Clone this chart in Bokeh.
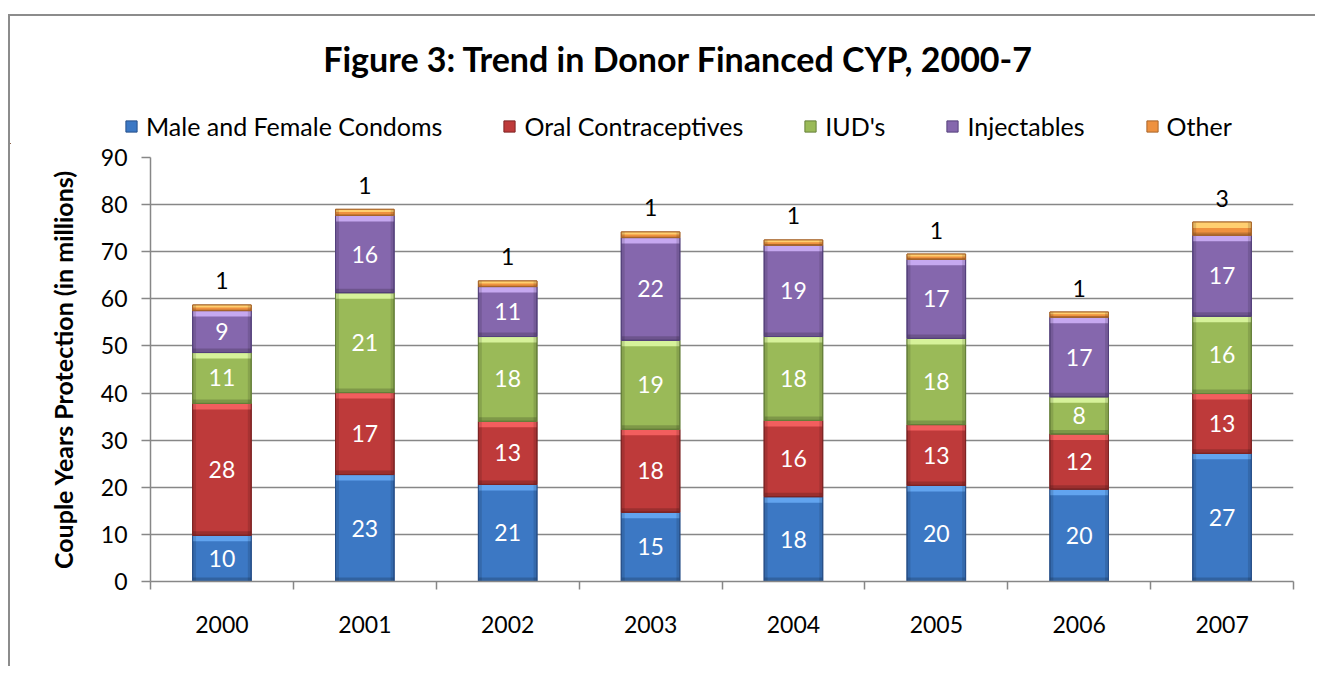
import numpy as np
from bokeh.plotting import figure
from bokeh.layouts import column
from bokeh.models import FixedTicker, Legend, LegendItem, Label, Range1d, ColumnDataSource
from bokeh.core.properties import value
from bokeh.embed import file_html
from bokeh.resources import INLINE

# ---------------- data ----------------
years = ["2000", "2001", "2002", "2003", "2004", "2005", "2006", "2007"]
series_names = ["Male and Female Condoms", "Oral Contraceptives", "IUD's", "Injectables", "Other"]
condoms = [9.8, 22.7, 20.6, 14.7, 18.0, 20.4, 19.6, 27.2]
oral = [28.0, 17.4, 13.4, 17.6, 16.2, 12.9, 11.7, 12.7]
iud = [10.8, 21.2, 18.0, 18.9, 17.8, 18.3, 7.9, 16.4]
injectables = [8.9, 16.4, 10.6, 21.8, 19.4, 16.8, 16.9, 17.2]
other = [1.2, 1.3, 1.2, 1.2, 1.1, 1.1, 1.1, 2.8]
y_ticks = [0, 10, 20, 30, 40, 50, 60, 70, 80, 90]

title_text = "Figure 3: Trend in Donor Financed CYP, 2000-7"
y_label = "Couple Years Protection (in millions)"

# ---------------- style ----------------
FONT = "Lato"
GRAY = "#878787"
base_colors = ["#3c78c4", "#be3a3a", "#9aba58", "#8567ad", "#ee913f"]
light_colors = ["#62a4ef", "#f25e5e", "#d6f29a", "#c6a8f0", "#ffcf70"]
edge_colors = ["#27508a", "#7e2424", "#66803a", "#54407c", "#a8652a"]

WIDTH = 1305
HEAD_H = 128
MAIN_H = 522

series_vals = [condoms, oral, iud, injectables, other]
n = len(years)
xc = np.arange(n) + 0.5
bounds = list(np.arange(n + 1).astype(float))
W = 0.41

# ---------------- header (title + legend) ----------------
head = figure(width=WIDTH, height=HEAD_H, x_range=Range1d(0, WIDTH), y_range=Range1d(0, HEAD_H),
              x_axis_type=None, y_axis_type=None, output_backend="svg", toolbar_location=None,
              min_border=0, title=None)
head.frame_align = False
head.outline_line_color = None
head.add_layout(Label(x=668, y=86, text=title_text, text_align="center", text_baseline="middle",
                      text_font=FONT, text_font_size="34px", text_font_style="bold",
                      text_color="black"))
proxies = []
for i in range(len(series_names)):
    proxies.append(head.vbar(x=[-100], width=10, bottom=[0], top=[1],
                             fill_color=base_colors[i], line_color=edge_colors[i]))
legend = Legend(items=[LegendItem(label=nm, renderers=[r]) for nm, r in zip(series_names, proxies)],
                orientation="horizontal", location=(114, 3), margin=0, padding=0,
                spacing=60, glyph_width=14, glyph_height=14, label_standoff=8,
                label_text_font=FONT, label_text_font_size="25px", label_text_color="black",
                border_line_color=None, background_fill_alpha=0)
head.add_layout(legend, "center")

# ---------------- main chart ----------------
p = figure(width=WIDTH, height=MAIN_H, x_range=Range1d(0, n), y_range=Range1d(0, 90),
           output_backend="svg", toolbar_location=None, title=None,
           min_border_left=140, min_border_right=22, min_border_top=13, min_border_bottom=85)
p.frame_align = False
p.outline_line_color = None
p.background_fill_color = "white"
p.border_fill_color = "white"

px_per_unit = 424.0 / 90.0
bottom = np.zeros(n)
for i, vals in enumerate(series_vals):
    v = np.array(vals, dtype=float)
    top = bottom + v
    src = ColumnDataSource(dict(x=xc, bottom=bottom.copy(), top=top,
                                hl_bot=top - np.minimum(6 / px_per_unit, 0.45 * v),
                                sh_top=bottom + np.minimum(4 / px_per_unit, 0.2 * v),
                                xl=xc - W / 2 + 0.012, xr=xc + W / 2 - 0.012,
                                mid=(bottom + top) / 2,
                                lab=["%.0f" % a for a in v]))
    p.vbar(x="x", width=W, bottom="bottom", top="top", source=src,
           fill_color=base_colors[i], line_color=edge_colors[i], line_width=1)
    # bevel shading
    p.vbar(x="x", width=W, bottom="hl_bot", top="top", source=src,
           fill_color=light_colors[i], line_color=None)
    p.vbar(x="x", width=W, bottom="bottom", top="sh_top", source=src,
           fill_color="black", fill_alpha=0.18, line_color=None)
    p.vbar(x="xl", width=0.024, bottom="bottom", top="top", source=src,
           fill_color="black", fill_alpha=0.12, line_color=None)
    p.vbar(x="xr", width=0.024, bottom="bottom", top="top", source=src,
           fill_color="black", fill_alpha=0.12, line_color=None)
    p.vbar(x="x", width=W, bottom="bottom", top="top", source=src,
           fill_color=None, line_color=edge_colors[i], line_width=1)
    if i < 4:
        p.text(x="x", y="mid", text="lab", source=src, text_color="white",
               text_font=value(FONT), text_font_size="23px",
               text_align="center", text_baseline="middle")
    else:
        p.text(x="x", y="top", text="lab", source=src, text_color="black",
               text_font=value(FONT), text_font_size="23px",
               text_align="center", text_baseline="middle", y_offset=-24)
    bottom = top

# ---------------- axes ----------------
p.yaxis.ticker = FixedTicker(ticks=y_ticks)
p.ygrid.ticker = FixedTicker(ticks=y_ticks)
p.ygrid.grid_line_color = GRAY
p.ygrid.grid_line_width = 1.5
p.xgrid.visible = False
for ax in (p.xaxis, p.yaxis):
    ax.axis_line_color = GRAY
    ax.axis_line_width = 1.5
    ax.major_tick_line_color = GRAY
    ax.major_tick_line_width = 1.5
    ax.major_label_text_font = FONT
    ax.major_label_text_font_size = "23px"
    ax.major_label_text_color = "black"
p.yaxis.major_tick_out = 9
p.yaxis.major_tick_in = 0
p.yaxis.minor_tick_line_color = None
p.yaxis.major_label_standoff = 14
p.yaxis.axis_label = y_label
p.yaxis.axis_label_text_font = FONT
p.yaxis.axis_label_text_font_style = "bold"
p.yaxis.axis_label_text_font_size = "25px"
p.yaxis.axis_label_text_color = "black"
p.yaxis.axis_label_standoff = 20

p.xaxis.ticker = FixedTicker(ticks=list(xc), minor_ticks=bounds)
p.xaxis.major_label_overrides = {float(c): y for c, y in zip(xc, years)}
p.xaxis.major_tick_out = 0
p.xaxis.major_tick_in = 0
p.xaxis.minor_tick_out = 8
p.xaxis.minor_tick_in = 0
p.xaxis.minor_tick_line_color = GRAY
p.xaxis.minor_tick_line_width = 1.5
p.xaxis.major_label_standoff = 26

layout = column(head, p, spacing=0)
layout.styles = {"border-top": "2px solid #8c8c8c", "border-left": "2px solid #8c8c8c",
                 "margin-top": "14px", "margin-left": "8px"}

open("out.html", "w").write(file_html(layout, INLINE))
